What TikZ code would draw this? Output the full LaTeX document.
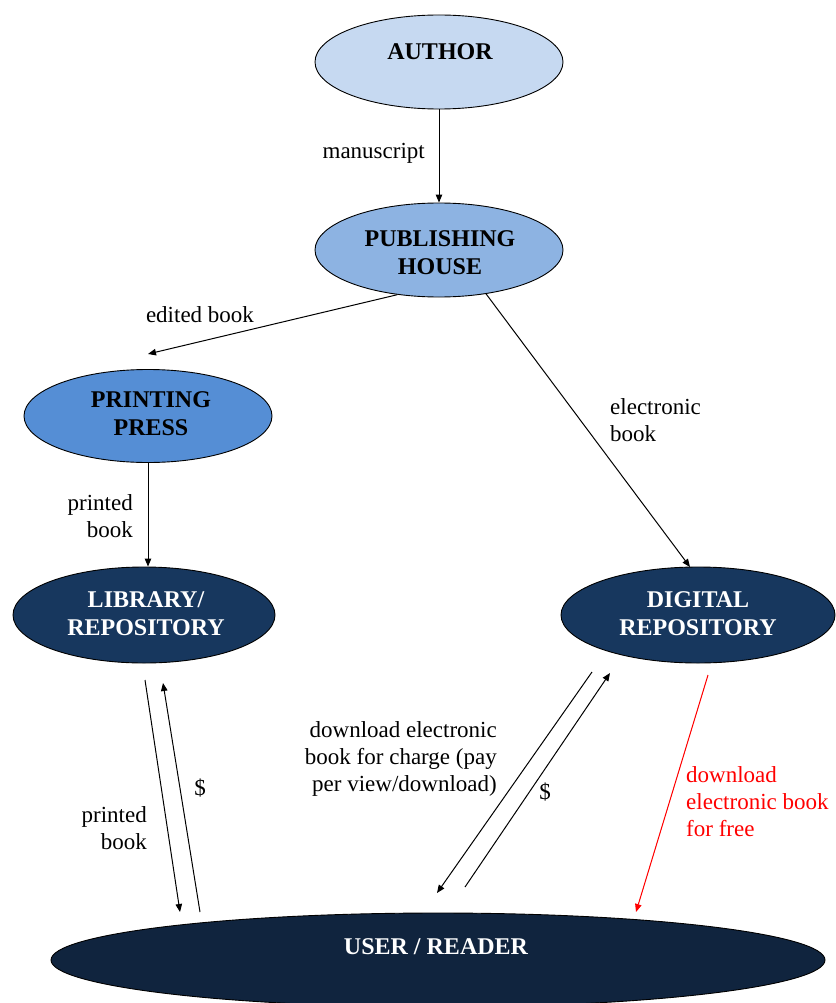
\documentclass[tikz,border=0pt]{standalone}
\usepackage{fontspec}
\setmainfont{Liberation Serif}
\usetikzlibrary{shapes.geometric,arrows.meta}
\definecolor{cAuthor}{HTML}{C6D9F1}
\definecolor{cPub}{HTML}{8DB3E2}
\definecolor{cPress}{HTML}{558ED5}
\definecolor{cRepo}{HTML}{17375E}
\definecolor{cUser}{HTML}{10243E}
\definecolor{cRed}{HTML}{FF0000}
\begin{document}
\begin{tikzpicture}[x=1pt,y=-1pt,
 blob/.style={ellipse,draw=black,line width=0.9pt,inner sep=0pt},
 ttl/.style={font=\fontsize{24}{28}\selectfont\bfseries,align=center,inner sep=0pt},
 lbl/.style={font=\fontsize{23}{27}\selectfont,inner sep=0pt},
 arr/.style={line width=1pt,-{Triangle[length=8pt,width=6.5pt]}}]
\path[use as bounding box,fill=white] (0,0) rectangle (835,1003);

% nodes
\node[blob,fill=cAuthor,minimum width=248pt,minimum height=94pt] (author) at (439,62) {};
\node[ttl] (authorT) at (440,52) {AUTHOR};
\node[blob,fill=cPub,minimum width=248pt,minimum height=94pt] (pub) at (439,250) {};
\node[ttl] (pubT) at (440,253) {PUBLISHING\\HOUSE};
\node[blob,fill=cPress,minimum width=248pt,minimum height=93pt] (press) at (148,416) {};
\node[ttl] (pressT) at (151,414) {PRINTING\\PRESS};
\node[blob,fill=cRepo,minimum width=262pt,minimum height=96pt] (lib) at (144,615) {};
\node[ttl,text=white] (libT) at (146,614) {LIBRARY/\\REPOSITORY};
\node[blob,fill=cRepo,minimum width=274pt,minimum height=96pt] (dig) at (698,615) {};
\node[ttl,text=white] (digT) at (698,614) {DIGITAL\\REPOSITORY};
\node[blob,fill=cUser,minimum width=774pt,minimum height=94pt] (user) at (438,960) {};
\node[ttl,text=white] (userT) at (436,947) {USER / READER};

% free ends
\coordinate (edTip) at (148,354);
\coordinate (ebTip) at (690,567);
\coordinate (l1s) at (145,680);
\coordinate (l1e) at (180,912);
\coordinate (l2s) at (200,912);
\coordinate (l2e) at (163,683);
\coordinate (d1s) at (592,672);
\coordinate (d1e) at (437,893);
\coordinate (d2s) at (465,887);
\coordinate (d2e) at (610,673);
\coordinate (rs) at (708,675);
\coordinate (re) at (636,912);

% connectors
\draw[arr] (author.south) -- (pub.north);
\draw[arr] (pub.227) -- (edTip);
\draw[arr] (press.south) -- (press.south |- lib.north);
\draw[arr] (pub.-43) -- (ebTip);
\draw[arr] (l1s) -- (l1e);
\draw[arr] (l2s) -- (l2e);
\draw[arr] (d1s) -- (d1e);
\draw[arr] (d2s) -- (d2e);
\draw[arr,draw=cRed,fill=cRed] (rs) -- (re);

% labels
\node[lbl,anchor=east] (lManu) at (425,153) {manuscript};
\node[lbl] (lEd) at (200,315) {edited book};
\node[lbl,anchor=east,align=right] (lPr1) at (133,516) {printed\\book};
\node[lbl,anchor=west,align=left] (lEb) at (610,420) {electronic\\book};
\node[lbl,anchor=east,align=right] (lPr2) at (147,828) {printed\\book};
\node[lbl] (lD1) at (200,788) {\$};
\node[lbl,anchor=east,align=right] (lCh) at (497,759) {download electronic\\book for charge (pay\\per view/download)};
\node[lbl] (lD2) at (545,792) {\$};
\node[lbl,anchor=west,align=left,text=cRed] (lFree) at (686,802) {download\\electronic book\\for free};
\end{tikzpicture}
\end{document}
